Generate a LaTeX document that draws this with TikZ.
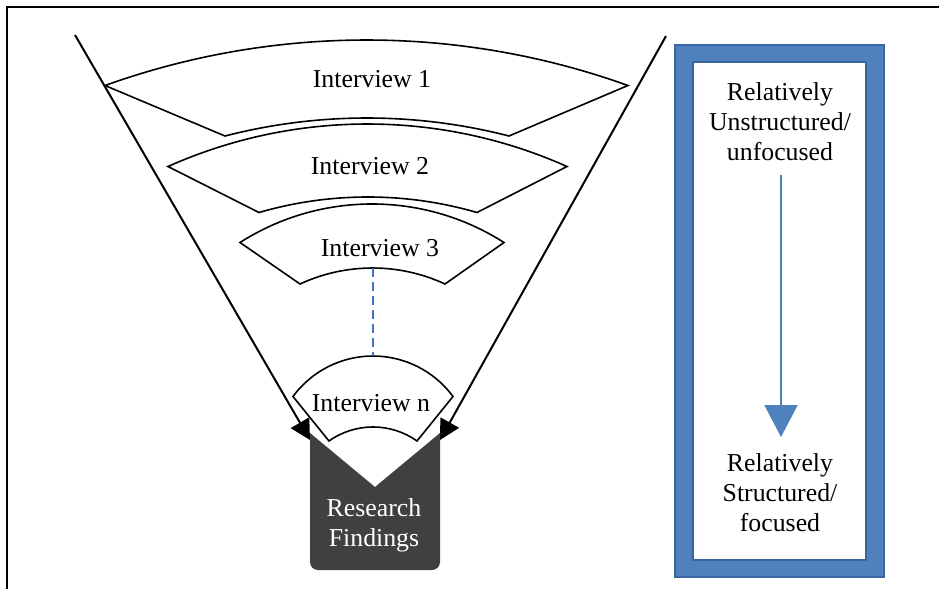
\documentclass[tikz,border=0pt]{standalone}
\usepackage{fontspec}
\setmainfont{Liberation Serif}
\usetikzlibrary{arrows.meta}
\definecolor{frameblue}{HTML}{4F81BD}
\definecolor{frameedge}{HTML}{3A65A0}
\definecolor{dashblue}{HTML}{4472C4}
\definecolor{boxgray}{HTML}{404040}
\begin{document}
\begin{tikzpicture}[x=0.5pt,y=-0.5pt,
  shapeline/.style={draw=black, line width=0.8pt, fill=white, line join=miter},
  funnel/.style={line width=1pt, -{Triangle[length=10pt,width=10.5pt]}},
  lbl/.style={font=\fontsize{12.9pt}{15pt}\selectfont, align=center, inner sep=0pt},
]
\useasboundingbox (0,0) rectangle (939,589);
% frame (top and left edges)
\draw[line width=0.8pt] (939,7) -- (7,7) -- (7,589);

% funnel
\coordinate (fl1) at (75,35);
\coordinate (fl2) at (310,440);
\coordinate (fr1) at (666,36);
\coordinate (fr2) at (440,440);
\draw[funnel] (fl1) -- (fl2);
\draw[funnel] (fr1) -- (fr2);

% research findings box
\fill[boxgray] (440,500) [rounded corners=4pt] -- (440,570) -- (310,570) -- (310,500)
  [sharp corners] -- (310,433) -- (375,487) -- (440,433) -- cycle;
\node[lbl, text=white] (rf) at (374,525) {Research\\Findings};

% interview shapes
\draw[shapeline] (105,85.5) arc[start angle=250.26, end angle=289.74, radius=774.2]
  -- (509,136) arc[start angle=284.45, end angle=255.55, radius=569.1] -- cycle;
\node[lbl] (i1) at (372,79) {Interview 1};

\draw[shapeline] (168,166.5) arc[start angle=245.95, end angle=294.05, radius=489.5]
  -- (477,212.5) arc[start angle=286.19, end angle=253.81, radius=391.0] -- cycle;
\node[lbl] (i2) at (370,166) {Interview 2};

\draw[shapeline] (240,242.5) arc[start angle=237.47, end angle=302.53, radius=245.5]
  -- (445,284) arc[start angle=294.88, end angle=245.12, radius=172.3] -- cycle;
\node[lbl] (i3) at (380,248) {Interview 3};

\draw[shapeline] (293,396.5) arc[start angle=216.33, end angle=323.67, radius=99.3]
  -- (417,441) arc[start angle=305.33, end angle=234.67, radius=76.1] -- cycle;
\node[lbl] (in) at (371,403) {Interview n};

% dashed link
\coordinate (d1) at (373,268);
\coordinate (d2) at (373,356);
\draw[dashblue, line width=0.8pt, dash pattern=on 4.5pt off 2.5pt] (d1) -- (d2);

% right panel
\draw[frameedge, fill=frameblue, line width=0.6pt] (675,45) rectangle (884,577);
\draw[frameedge, fill=white, line width=0.6pt] (693,62) rectangle (866,560);
\node[lbl] (top) at (780,122) {Relatively\\Unstructured/\\unfocused};
\node[lbl] (bot) at (780,493) {Relatively\\Structured/\\focused};
\coordinate (a1) at (781,175);
\coordinate (a2) at (781,437);
\draw[frameblue, line width=1pt, -{Triangle[length=16pt,width=16.5pt]}] (a1) -- (a2);
\end{tikzpicture}
\end{document}
